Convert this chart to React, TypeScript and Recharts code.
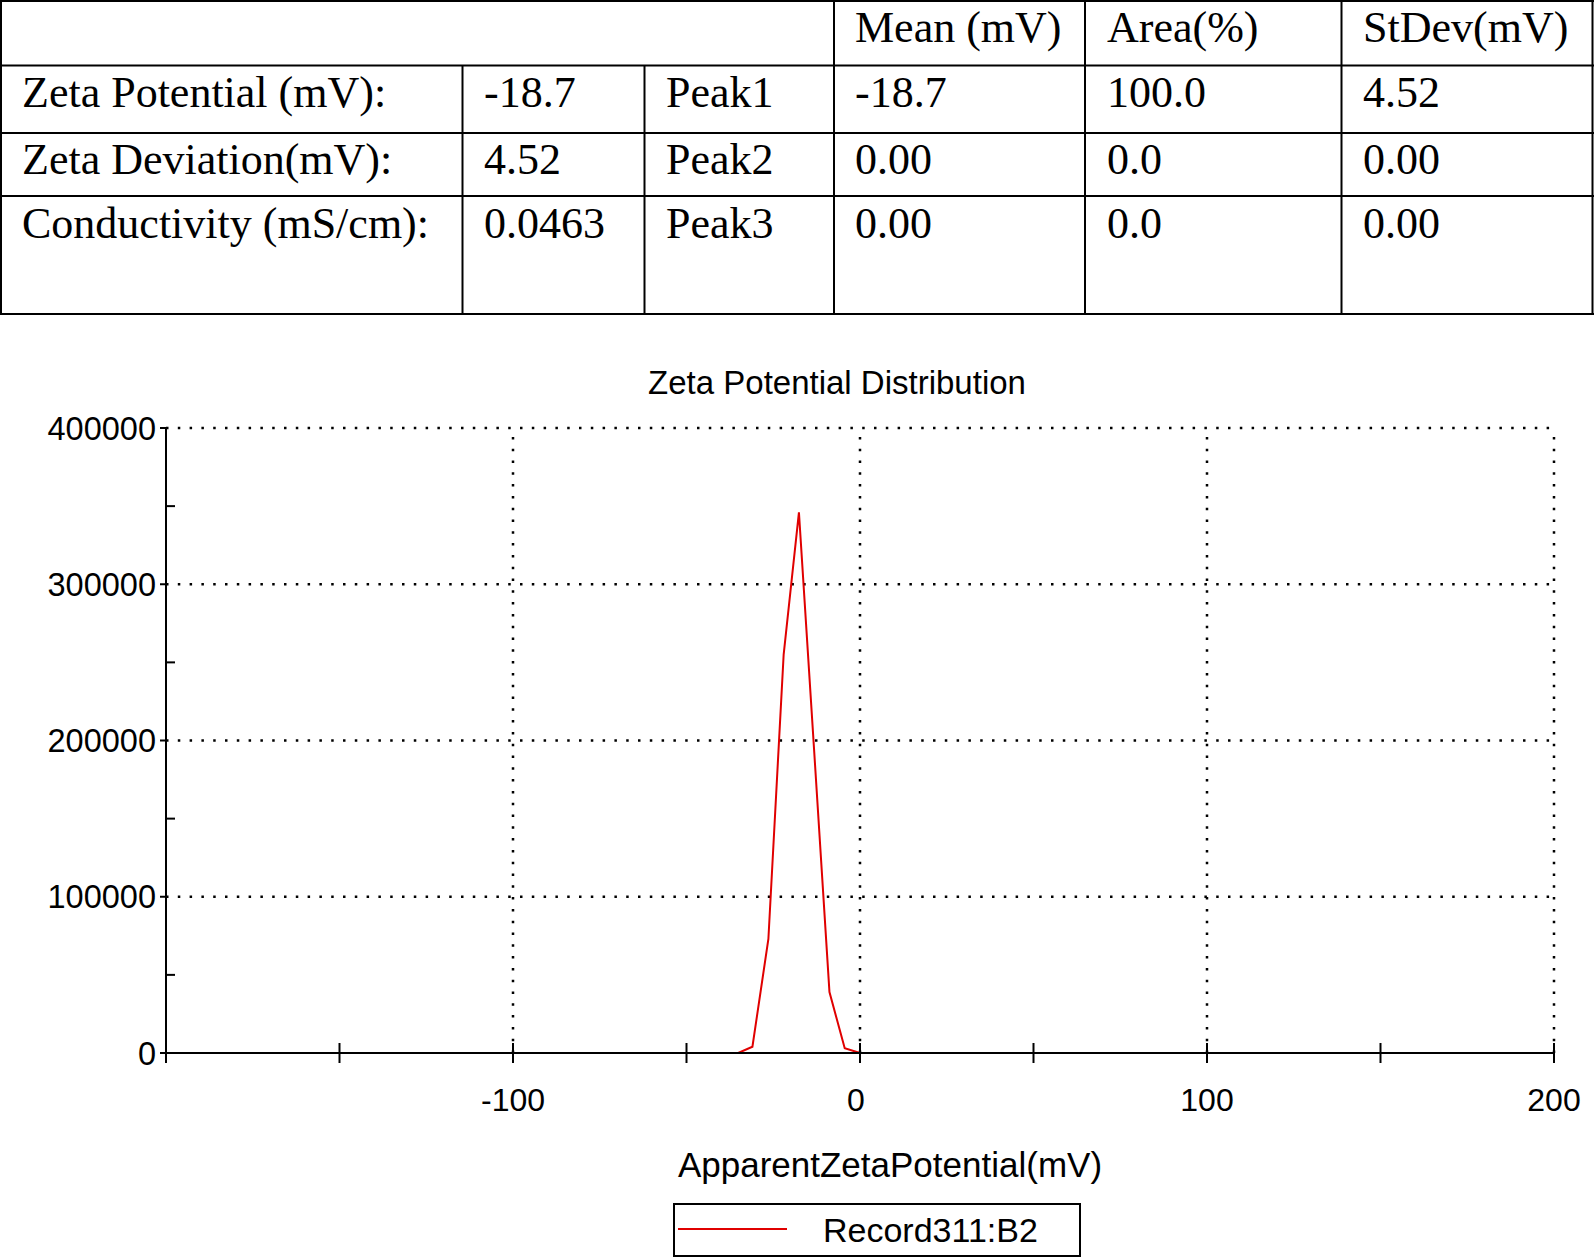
import React from "react";
import { LineChart, Line, XAxis, YAxis, ReferenceLine, Legend } from "recharts";

// distribution (mV vs. counts)
const zetaMv = [-150, -100, -50, -35.1, -31.0, -26.4, -22.0, -17.6, -13.2, -8.8, -4.4, 0, 50, 100, 150];
const counts = [0, 0, 0, 0, 4000, 73000, 255000, 346000, 193000, 39000, 3000, 0, 0, 0, 0];
const seriesName = "Record311:B2";

const xTicks = [-200, -150, -100, -50, 0, 50, 100, 150, 200];
const xTickLabels = [-100, 0, 100, 200];
const yTicks = [0, 50000, 100000, 150000, 200000, 250000, 300000, 350000, 400000];
const yTickLabels = [0, 100000, 200000, 300000, 400000];
const xGrid = [-100, 0, 100, 200];
const yGrid = [100000, 200000, 300000, 400000];

// results table
const tableHeader = ["Mean (mV)", "Area(%)", "StDev(mV)"];
const summaryLabels = ["Zeta Potential (mV):", "Zeta Deviation(mV):", "Conductivity (mS/cm):"];
const summaryValues = ["-18.7", "4.52", "0.0463"];
const peakNames = ["Peak1", "Peak2", "Peak3"];
const peakMeans = ["-18.7", "0.00", "0.00"];
const peakAreas = ["100.0", "0.0", "0.0"];
const peakStdevs = ["4.52", "0.00", "0.00"];

const chartData = zetaMv.map((x, i) => ({ x, y: counts[i] }));

const SANS = '"Liberation Sans", Arial, sans-serif';
const SERIF = '"Liberation Serif", "Times New Roman", serif';
const RED = "#e00000";
const DOTS = "2.5 9.3";

// table geometry
const colX = [1, 462.5, 644.5, 834, 1085, 1341.5, 1592.5];
const rowY = [1, 65.5, 133, 196, 314];
const textX = [22, 484, 666, 855, 1107, 1363];
const baseY = [42, 107, 174, 238];

const ResultsTable = () => {
  const rows = summaryLabels.map((label, i) => [
    label,
    summaryValues[i],
    peakNames[i],
    peakMeans[i],
    peakAreas[i],
    peakStdevs[i],
  ]);
  return (
    <svg width={1594} height={320} style={{ position: "absolute", left: 0, top: 0 }}>
      <g stroke="#000" strokeWidth={2}>
        {rowY.map((y) => (
          <line key={"h" + y} x1={0} x2={1594} y1={y} y2={y} />
        ))}
        {colX.map((x, i) => (
          <line key={"v" + x} x1={x} x2={x} y1={i === 1 || i === 2 ? rowY[1] : 0} y2={rowY[4] + 1} />
        ))}
      </g>
      <g fontFamily={SERIF} fontSize={44} fill="#000">
        {tableHeader.map((t, i) => (
          <text key={t} x={textX[i + 3]} y={baseY[0]}>
            {t}
          </text>
        ))}
        {rows.map((row, r) =>
          row.map((cell, c) => (
            <text key={r + "-" + c} x={textX[c]} y={baseY[r + 1]}>
              {cell}
            </text>
          ))
        )}
      </g>
    </svg>
  );
};

const renderXTick = (props: any) => {
  const { x, y, payload } = props;
  return (
    <g>
      <line x1={x} x2={x} y1={y - 10} y2={y + 10} stroke="#000" strokeWidth={2} />
      {xTickLabels.includes(payload.value) && (
        <text
          x={payload.value === 0 ? x - 4 : x}
          y={y + 58}
          textAnchor="middle"
          fontFamily={SANS}
          fontSize={32}
          fill="#000"
        >
          {payload.value}
        </text>
      )}
    </g>
  );
};

const renderYTick = (props: any) => {
  const { x, y, payload } = props;
  const major = yTickLabels.includes(payload.value);
  return (
    <g>
      {major ? (
        <line x1={x - 6} x2={x} y1={y} y2={y} stroke="#000" strokeWidth={2} />
      ) : (
        <line x1={x} x2={x + 9} y1={y} y2={y} stroke="#000" strokeWidth={2} />
      )}
      {major && (
        <text x={x - 10} y={y + 11.5} textAnchor="end" fontFamily={SANS} fontSize={32.5} fill="#000">
          {payload.value}
        </text>
      )}
    </g>
  );
};

const renderLegend = (props: any) => {
  const item = props.payload && props.payload[0];
  return (
    <svg width={408} height={54}>
      <rect x={1} y={1} width={406} height={52} fill="#fff" stroke="#000" strokeWidth={2} />
      <line x1={5} x2={114} y1={26} y2={26} stroke={item ? item.color : RED} strokeWidth={2} />
      <text x={150} y={39} fontFamily={SANS} fontSize={34} fill="#000">
        {item ? item.value : seriesName}
      </text>
    </svg>
  );
};

export default function App() {
  return (
    <div style={{ position: "absolute", left: 0, top: 0, width: 1594, height: 1258, background: "#fff" }}>
      <ResultsTable />
      <LineChart
        width={1594}
        height={1258}
        data={chartData}
        margin={{ top: 428, right: 40, bottom: 0, left: 0 }}
      >
        <text x={837} y={394} textAnchor="middle" fontFamily={SANS} fontSize={33} fill="#000">
          Zeta Potential Distribution
        </text>
        <text x={890} y={1177} textAnchor="middle" fontFamily={SANS} fontSize={35} fill="#000">
          ApparentZetaPotential(mV)
        </text>
        {xGrid.map((v) => (
          <ReferenceLine key={"gx" + v} x={v} stroke="#000" strokeWidth={2.5} strokeDasharray={DOTS} />
        ))}
        {yGrid.map((v) => (
          <ReferenceLine key={"gy" + v} y={v} stroke="#000" strokeWidth={2.5} strokeDasharray={DOTS} />
        ))}
        <Line
          type="linear"
          dataKey="y"
          name={seriesName}
          stroke={RED}
          strokeWidth={2}
          dot={false}
          activeDot={false}
          isAnimationActive={false}
        />
        <XAxis
          dataKey="x"
          type="number"
          domain={[-200, 200]}
          ticks={xTicks}
          interval={0}
          height={205}
          tickSize={0}
          tickMargin={0}
          tickLine={false}
          axisLine={{ stroke: "#000", strokeWidth: 2 }}
          tick={renderXTick}
          allowDataOverflow
        />
        <YAxis
          type="number"
          domain={[0, 400000]}
          ticks={yTicks}
          interval={0}
          width={166}
          tickSize={0}
          tickMargin={0}
          tickLine={false}
          axisLine={{ stroke: "#000", strokeWidth: 2 }}
          tick={renderYTick}
          allowDataOverflow
        />
        <Legend
          layout="horizontal"
          verticalAlign="middle"
          align="center"
          content={renderLegend}
          wrapperStyle={{ left: 673, top: 1203, width: 408, height: 54 }}
        />
      </LineChart>
    </div>
  );
}
